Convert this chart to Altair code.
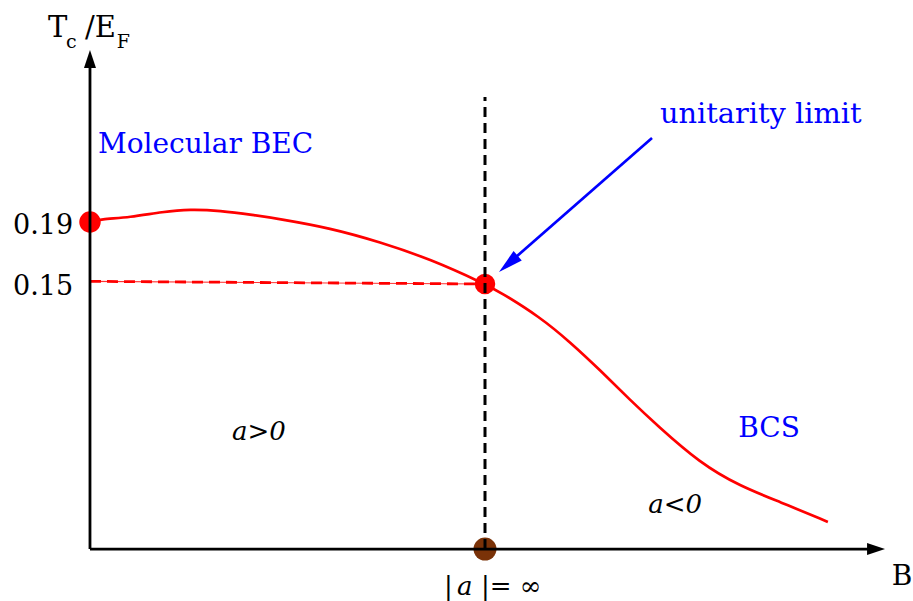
import altair as alt
import pandas as pd

# Critical temperature across the BEC-BCS crossover (schematic).
# B is the magnetic field in units where the unitarity point sits at B = 1.
B_CURVE = [0.0, 0.0253, 0.1013, 0.1848, 0.2532, 0.3291, 0.4127, 0.4810, 0.6076,
           0.7342, 0.8608, 1.0, 1.038, 1.139, 1.215, 1.291, 1.367, 1.435,
           1.544, 1.646, 1.747, 1.868]
TC_CURVE = [0.19, 0.1917, 0.1930, 0.1966, 0.1982, 0.1973, 0.1945, 0.1919, 0.1861,
            0.1771, 0.1661, 0.15, 0.1448, 0.1287, 0.1126, 0.0945, 0.0752, 0.0590,
            0.0345, 0.0195, 0.0094, -0.0035]

TC_BEC = 0.19        # molecular BEC limit
TC_UNITARY = 0.15    # unitarity limit
B_UNITARY = 1.0

# frame of the schematic
X_DOMAIN = [-0.2278, 2.0835]
Y_DOMAIN = [-0.0545, 0.3332]
AXIS_Y = -0.021
Y_AXIS_TOP = 0.301
X_AXIS_END = 2.0127
VLINE_TOP = 0.2706

RED = "#ff0000"
BLUE = "#0000ff"
BROWN = "#7a3208"
FONT = "DejaVu Serif"

xs = alt.Scale(domain=X_DOMAIN, nice=False, zero=False)
ys = alt.Scale(domain=Y_DOMAIN, nice=False, zero=False)


def X(f="x"):
    return alt.X(f"{f}:Q", scale=xs, axis=None)


def Y(f="y"):
    return alt.Y(f"{f}:Q", scale=ys, axis=None)


curve_df = pd.DataFrame({"x": B_CURVE, "y": TC_CURVE})
curve = alt.Chart(curve_df).mark_line(
    color=RED, strokeWidth=2.7, interpolate="basis"
).encode(x=X(), y=Y())

# dashed guide from the axis to the unitarity point
hguide_df = pd.DataFrame({"x": [0.0], "y": [0.1517], "x2": [B_UNITARY], "y2": [TC_UNITARY]})
hguide_thin = alt.Chart(hguide_df).mark_rule(color=RED, strokeWidth=1.1, opacity=0.8).encode(
    x=X(), y=Y(), x2="x2:Q", y2="y2:Q")
hguide = alt.Chart(hguide_df).mark_rule(color=RED, strokeWidth=2.8, strokeDash=[11, 6]).encode(
    x=X(), y=Y(), x2="x2:Q", y2="y2:Q")

vguide_df = pd.DataFrame({"x": [B_UNITARY], "y": [AXIS_Y], "y2": [VLINE_TOP]})
vguide = alt.Chart(vguide_df).mark_rule(color="black", strokeWidth=3, strokeDash=[10, 6]).encode(
    x=X(), y=Y(), y2="y2:Q")

red_dots = alt.Chart(pd.DataFrame({"x": [0.0, B_UNITARY], "y": [TC_BEC, TC_UNITARY],
                                   "s": [460, 420]})).mark_point(
    filled=True, color=RED, opacity=1, strokeWidth=0
).encode(x=X(), y=Y(), size=alt.Size("s:Q", scale=None, legend=None))

brown_dot = alt.Chart(pd.DataFrame({"x": [B_UNITARY], "y": [AXIS_Y]})).mark_point(
    filled=True, color=BROWN, opacity=1, size=530, strokeWidth=0
).encode(x=X(), y=Y())

# axes with arrowheads
axes_df = pd.DataFrame({"x": [0.0, 0.0], "y": [AXIS_Y, AXIS_Y],
                        "x2": [0.0, X_AXIS_END - 0.03], "y2": [Y_AXIS_TOP - 0.0095, AXIS_Y]})
axes = alt.Chart(axes_df).mark_rule(color="black", strokeWidth=2.8).encode(
    x=X(), y=Y(), x2="x2:Q", y2="y2:Q")

ARROW = "M0,0L0.6,1.8L-0.6,1.8Z"
heads_df = pd.DataFrame({"x": [0.0, X_AXIS_END], "y": [Y_AXIS_TOP, AXIS_Y], "a": [0, 90]})
heads = alt.Chart(heads_df).mark_point(
    shape=ARROW, filled=True, color="black", opacity=1, size=400, strokeWidth=0
).encode(x=X(), y=Y(), angle=alt.Angle("a:Q", scale=None))

# annotation arrow pointing at the unitarity point
pointer_df = pd.DataFrame({"x": [1.4228], "y": [0.2442], "x2": [1.0734], "y2": [0.1663]})
pointer = alt.Chart(pointer_df).mark_rule(color=BLUE, strokeWidth=2.7).encode(
    x=X(), y=Y(), x2="x2:Q", y2="y2:Q")
pointer_head = alt.Chart(pd.DataFrame({"x": [1.0354], "y": [0.1577], "a": [228.8]})).mark_point(
    shape="M0,0L0.45,1.8L-0.45,1.8Z", filled=True, color=BLUE, opacity=1, size=760, strokeWidth=0
).encode(x=X(), y=Y(), angle=alt.Angle("a:Q", scale=None))

# text labels: (text, left x, baseline y, font size, colour, style)
LABELS = [
    ("T", -0.1063, 0.3094, 29, "black", "normal"),
    ("c", -0.0608, 0.3023, 19, "black", "normal"),
    ("/E", -0.0127, 0.3094, 29, "black", "normal"),
    ("F", 0.0675, 0.3023, 19, "black", "normal"),
    ("0.19", -0.1949, 0.1823, 27, "black", "normal"),
    ("0.15", -0.1949, 0.1429, 27, "black", "normal"),
    ("Molecular BEC", 0.0203, 0.2345, 28, BLUE, "normal"),
    ("unitarity limit", 1.443, 0.2539, 28.8, BLUE, "normal"),
    ("BCS", 1.641, 0.0513, 28, BLUE, "normal"),
    ("a>0", 0.3595, 0.0494, 26, "black", "italic"),
    ("a<0", 1.413, 0.0023, 26, "black", "italic"),
    ("|", 0.8962, -0.0506, 26, "black", "normal"),
    ("a", 0.9291, -0.0506, 26, "black", "italic"),
    ("|= \u221e", 0.9899, -0.0506, 26, "black", "normal"),
    ("B", 2.030, -0.0442, 28, "black", "normal"),
]

texts = []
for txt, lx, by, fs, col, sty in LABELS:
    texts.append(
        alt.Chart(pd.DataFrame({"x": [lx], "y": [by], "t": [txt]})).mark_text(
            align="left", baseline="alphabetic", font=FONT, fontSize=fs,
            color=col, fontStyle=sty
        ).encode(x=X(), y=Y(), text="t:N")
    )

chart = alt.layer(
    curve, hguide_thin, hguide, red_dots, brown_dot, vguide, axes, heads,
    pointer, pointer_head, *texts
).properties(
    width=913, height=601, padding=0, autosize=alt.AutoSizeParams(type="none"),
    background="white"
).configure_view(stroke=None)

chart.save("out.html", embed_options={"renderer": "svg", "actions": False})
